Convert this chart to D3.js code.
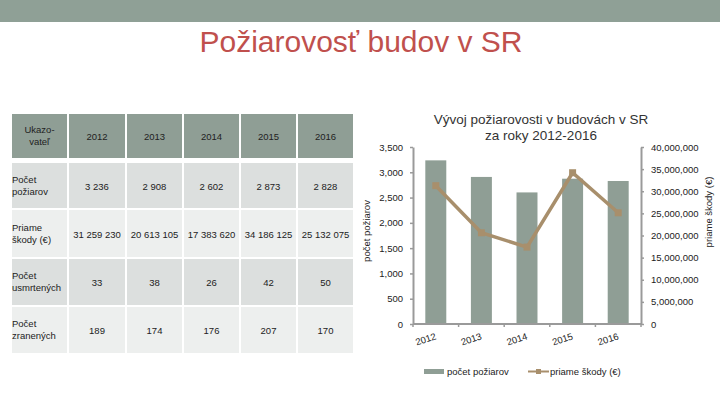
<!doctype html>
<html>
<head>
<meta charset="utf-8">
<script src="https://d3js.org/d3.v7.min.js"></script>
<style>
  body { margin:0; background:#fff; }
  text { font-family: "Liberation Sans", Arial, sans-serif; }
</style>
</head>
<body>
<svg id="chart" width="720" height="405"></svg>
<script>
// table + chart data
const years    = ["2012", "2013", "2014", "2015", "2016"];
const fires    = [3236, 2908, 2602, 2873, 2828];
const damages  = [31259230, 20613105, 17383620, 34186125, 25132075];
const deaths   = [33, 38, 26, 42, 50];
const injured  = [189, 174, 176, 207, 170];
const rowLabels = [["Počet", "požiarov"], ["Priame", "škody (€)"], ["Počet", "usmrtených"], ["Počet", "zranených"]];
const leftTicks  = [0, 500, 1000, 1500, 2000, 2500, 3000, 3500];
const rightTicks = [0, 5e6, 10e6, 15e6, 20e6, 25e6, 30e6, 35e6, 40e6];

const svg = d3.select("#chart");

// banner + title
svg.append("rect").attr("x", 0).attr("y", 0).attr("width", 720).attr("height", 22).attr("fill", "#8fa096");
svg.append("text").attr("x", 361).attr("y", 52).attr("text-anchor", "middle")
   .attr("font-size", 30).attr("fill", "#c0504d").text("Požiarovosť budov v SR");

// ---- table ----
const colX = [12, 69, 127, 184, 241, 298];
const colW = [55, 56, 55, 55, 55, 55];
const rowY = [114, 163, 210, 259, 307];
const rowH = [44, 45, 47, 46, 46];
const rowFill = ["#8f9e95", "#dcdfde", "#edefee", "#dcdfde", "#edefee"];
const fmt = v => d3.format(",")(v).replace(/,/g, " ");
const rows = [fires, damages, deaths, injured];

const tbl = svg.append("g").attr("font-size", 9.5).attr("fill", "#222");
rowY.forEach((y, r) => {
  colX.forEach((x, c) => {
    tbl.append("rect").attr("x", x).attr("y", y).attr("width", colW[c]).attr("height", rowH[r]).attr("fill", rowFill[r]);
  });
});
// header
tbl.append("text").attr("x", colX[0] + colW[0] / 2).attr("y", rowY[0] + 19).attr("text-anchor", "middle").text("Ukazo-");
tbl.append("text").attr("x", colX[0] + colW[0] / 2).attr("y", rowY[0] + 31).attr("text-anchor", "middle").text("vateľ");
years.forEach((yr, i) => {
  tbl.append("text").attr("x", colX[i + 1] + colW[i + 1] / 2).attr("y", rowY[0] + 26).attr("text-anchor", "middle").text(yr);
});
rows.forEach((vals, r) => {
  const y = rowY[r + 1], h = rowH[r + 1];
  tbl.append("text").attr("x", colX[0]).attr("y", y + h / 2 - 3).text(rowLabels[r][0]);
  tbl.append("text").attr("x", colX[0]).attr("y", y + h / 2 + 9).text(rowLabels[r][1]);
  vals.forEach((v, i) => {
    tbl.append("text").attr("x", colX[i + 1] + colW[i + 1] / 2).attr("y", y + h / 2 + 4)
       .attr("text-anchor", "middle").text(fmt(v));
  });
});

// ---- chart ----
const pLeft = 413, pRight = 641, pTop = 147, pBottom = 324;
const x = d3.scaleBand().domain(years).range([pLeft, pRight]).paddingInner(0.54).paddingOuter(0.27);
const yL = d3.scaleLinear().domain([0, 3500]).range([pBottom, pTop]);
const yR = d3.scaleLinear().domain([0, 40e6]).range([pBottom, pTop]);
const axisColor = "#9a9a9a";

svg.append("g").selectAll("rect").data(fires).join("rect")
   .attr("x", (d, i) => x(years[i])).attr("width", x.bandwidth())
   .attr("y", d => yL(d)).attr("height", d => pBottom - yL(d))
   .attr("fill", "#8f9e95");

const cx = (d, i) => x(years[i]) + x.bandwidth() / 2;
svg.append("path").datum(damages)
   .attr("d", d3.line().x(cx).y(d => yR(d)))
   .attr("fill", "none").attr("stroke", "#a88f6c").attr("stroke-width", 3.5);
svg.append("g").selectAll("rect").data(damages).join("rect")
   .attr("x", (d, i) => cx(d, i) - 3.5).attr("y", d => yR(d) - 3.5)
   .attr("width", 7).attr("height", 7).attr("fill", "#a88f6c");

function styleAxis(g) {
  g.select(".domain").attr("stroke", axisColor).attr("stroke-width", 2);
  g.selectAll(".tick line").attr("stroke", axisColor).attr("stroke-width", 1.5);
  g.selectAll(".tick text").attr("fill", "#222").attr("font-size", 9.5)
   .attr("font-family", "Liberation Sans, Arial, sans-serif");
}
svg.append("g").attr("transform", `translate(${pLeft},0)`)
   .call(d3.axisLeft(yL).tickValues(leftTicks).tickFormat(d3.format(",")).tickSize(3).tickSizeOuter(0).tickPadding(7))
   .call(styleAxis);
svg.append("g").attr("transform", `translate(${pRight},0)`)
   .call(d3.axisRight(yR).tickValues(rightTicks).tickFormat(d3.format(",")).tickSize(3).tickSizeOuter(0).tickPadding(7))
   .call(styleAxis);
const xg = svg.append("g").attr("transform", `translate(0,${pBottom})`)
   .call(d3.axisBottom(x).tickSize(0))
   .call(styleAxis);
xg.select(".domain").attr("d", `M${pLeft},0H${pRight}`);
xg.selectAll(".tick text").attr("text-anchor", "end").attr("y", 0).attr("dy", 0)
  .attr("transform", "translate(1,15) rotate(-18)");
// category boundary ticks
xg.selectAll(".bt").data(d3.range(6)).join("line")
  .attr("x1", i => pLeft + i * (pRight - pLeft) / 5).attr("x2", i => pLeft + i * (pRight - pLeft) / 5)
  .attr("y1", 0).attr("y2", 3).attr("stroke", axisColor).attr("stroke-width", 1.5);

// chart title and axis titles
svg.append("text").attr("x", 541).attr("y", 124).attr("text-anchor", "middle").attr("font-size", 13.5)
   .attr("fill", "#333").text("Vývoj požiarovosti v budovách v SR");
svg.append("text").attr("x", 541).attr("y", 140).attr("text-anchor", "middle").attr("font-size", 13.5)
   .attr("fill", "#333").text("za roky 2012-2016");
svg.append("text").attr("transform", "translate(370,231) rotate(-90)").attr("text-anchor", "middle")
   .attr("font-size", 9.5).attr("fill", "#222").text("počet požiarov");
svg.append("text").attr("transform", "translate(712,212) rotate(-90)").attr("text-anchor", "middle")
   .attr("font-size", 9.5).attr("fill", "#222").text("priame škody (€)");

// legend
const lg = svg.append("g").attr("font-size", 9.5).attr("fill", "#222");
lg.append("rect").attr("x", 424).attr("y", 369).attr("width", 20).attr("height", 5).attr("fill", "#8f9e95");
lg.append("text").attr("x", 447).attr("y", 375).text("počet požiarov");
lg.append("line").attr("x1", 528).attr("x2", 549).attr("y1", 371.5).attr("y2", 371.5)
  .attr("stroke", "#a88f6c").attr("stroke-width", 2);
lg.append("rect").attr("x", 536).attr("y", 369).attr("width", 5).attr("height", 5).attr("fill", "#a88f6c");
lg.append("text").attr("x", 550).attr("y", 375).text("priame škody (€)");
</script>
</body>
</html>
